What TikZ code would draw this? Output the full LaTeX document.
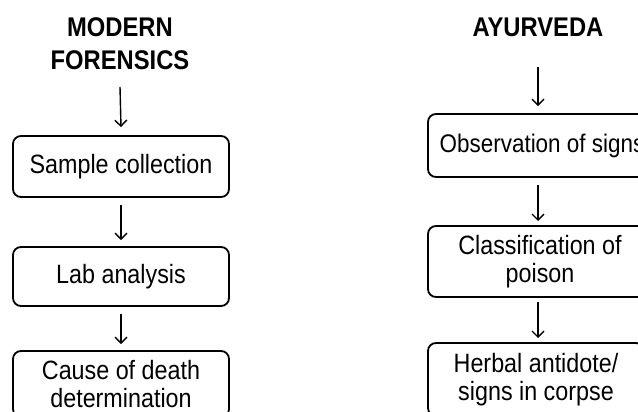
\documentclass[tikz,border=0pt]{standalone}
\usepackage{fontspec}
\setmainfont[FakeStretch=0.88]{Liberation Sans}
\usetikzlibrary{arrows.meta}
\tikzset{
  stepbox/.style={draw=black, line width=1.8pt, rounded corners=8pt, minimum width=216pt, align=center, inner sep=0pt, font=\fontsize{26.5}{28}\selectfont},
  title/.style={align=center, font=\bfseries\fontsize{27}{33}\selectfont},
  flow/.style={line width=1.4pt, -{Straight Barb[length=6pt,width=12pt,line width=1.4pt]}}
}
\begin{document}
\begin{tikzpicture}[x=1pt,y=-1pt]
\useasboundingbox (0,0) rectangle (638,412);
% left column
\node[title] (lt) at (120,43.5) {MODERN\\FORENSICS};
\coordinate (la0) at (120,87);
\node[stepbox, minimum height=61pt] (l1) at (121,166.5) {Sample collection};
\node[stepbox, minimum height=59pt] (l2) at (121,276.5) {Lab analysis};
\node[stepbox, minimum height=66pt] (l3) at (121,384) {Cause of death\\determination};
\draw[flow] (la0) -- ([yshift=8pt]l1.north);
\draw[flow] ([yshift=-7pt]l1.south) -- ([yshift=6pt]l2.north);
\draw[flow] ([yshift=-7pt]l2.south) -- ([yshift=6pt]l3.north);
% right column
\node[title] (rt) at (538,27) {AYURVEDA};
\coordinate (ra0) at (538,67);
\node[stepbox, minimum height=63pt, minimum width=228pt, font=\fontsize{25.5}{28}\selectfont] (r1) at (542,145.5) {Observation of signs};
\node[stepbox, minimum height=71pt, minimum width=224pt] (r2) at (540,261.5) {Classification of\\poison};
\node[stepbox, minimum height=73pt] (r3) at (536,379.5) {Herbal antidote/\\signs in corpse};
\coordinate (r1b) at (538,177);
\coordinate (r2t) at (538,226);
\coordinate (r2b) at (538,297);
\coordinate (r3t) at (538,343);
\draw[flow] (ra0) -- ([yshift=7pt]r1.north -| ra0);
\draw[flow] ([yshift=-8pt]r1b) -- ([yshift=5pt]r2t);
\draw[flow] ([yshift=-5pt]r2b) -- ([yshift=5pt]r3t);
\end{tikzpicture}
\end{document}
